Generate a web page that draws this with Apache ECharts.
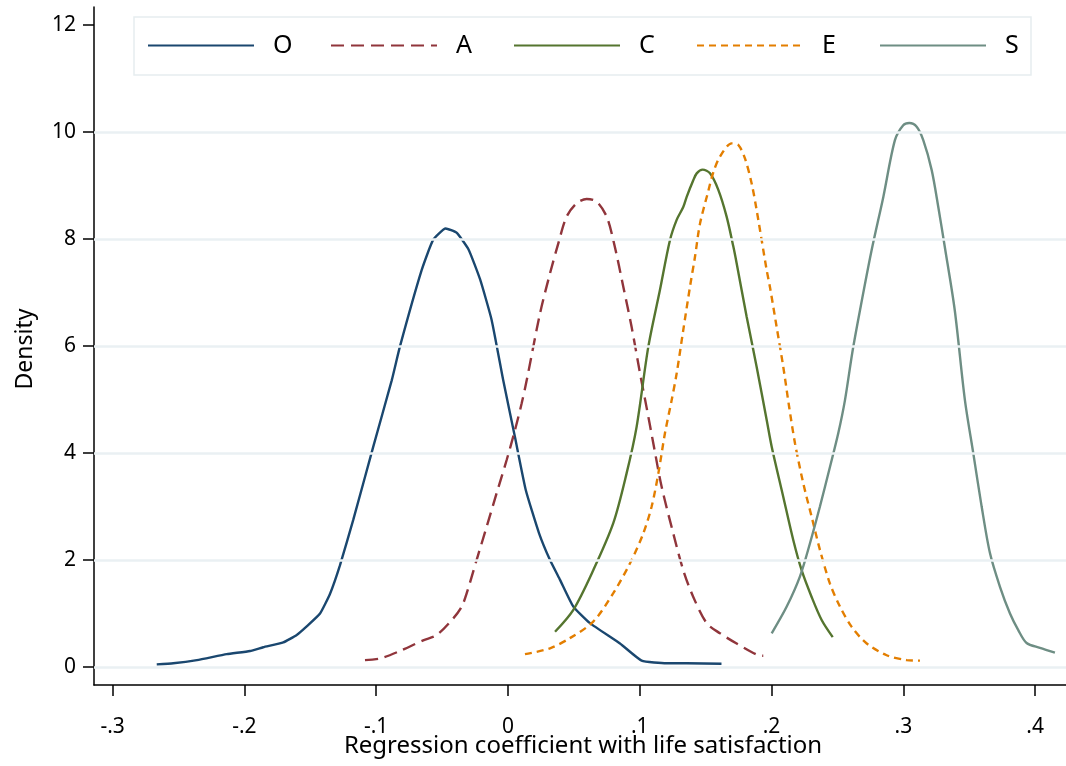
<!DOCTYPE html>
<html>
<head>
<meta charset="utf-8">
<script src="https://cdn.jsdelivr.net/npm/echarts@6/dist/echarts.min.js"></script>
<style>
html,body{margin:0;padding:0;background:#fff;}
#chart{width:1066px;height:766px;}
</style>
</head>
<body>
<div id="chart"></div>
<script>
// ---- data ----
const seriesNames = ['O', 'A', 'C', 'E', 'S'];
const xTicks = [-0.3, -0.2, -0.1, 0, 0.1, 0.2, 0.3, 0.4];
const yTicks = [0, 2, 4, 6, 8, 10, 12];
const gridValues = [0, 2, 4, 6, 8, 10];

const dataO = [
  [-0.2665,0.05],[-0.254,0.07],[-0.236,0.13],[-0.2134,0.24],[-0.1957,0.30],[-0.1857,0.37],
  [-0.1705,0.46],[-0.1603,0.60],[-0.1527,0.76],[-0.1426,1.0],[-0.135,1.37],[-0.1275,1.90],
  [-0.1174,2.75],[-0.1022,4.12],[-0.0882,5.36],[-0.082,5.99],[-0.0655,7.42],[-0.0567,7.99],
  [-0.0473,8.2],[-0.039,8.12],[-0.030,7.81],[-0.0212,7.25],[-0.0124,6.49],[-0.0036,5.36],
  [0.0053,4.30],[0.0135,3.31],[0.0236,2.50],[0.0319,2.0],[0.0395,1.63],[0.0496,1.13],
  [0.0622,0.82],[0.085,0.44],[0.1014,0.12],[0.1204,0.07],[0.1356,0.07],[0.162,0.06]
];
const dataA = [
  [-0.1085,0.13],[-0.097,0.16],[-0.082,0.30],[-0.0643,0.50],[-0.054,0.60],[-0.0415,0.91],
  [-0.0351,1.13],[-0.0313,1.38],[-0.0238,2.0],[-0.0162,2.62],[-0.0086,3.25],[-0.001,3.87],
  [0.0053,4.43],[0.0104,4.93],[0.0142,5.36],[0.0243,6.61],[0.0319,7.36],[0.0382,7.92],
  [0.0445,8.42],[0.0521,8.67],[0.0597,8.75],[0.0673,8.70],[0.0749,8.42],[0.0805,7.92],
  [0.0875,7.11],[0.0938,6.36],[0.1002,5.49],[0.1052,4.85],[0.1103,4.18],[0.1166,3.37],
  [0.1254,2.50],[0.133,1.81],[0.1406,1.31],[0.1508,0.82],[0.1609,0.63],[0.1735,0.44],
  [0.19,0.22],[0.1937,0.21]
];
const dataC = [
  [0.0357,0.66],[0.0496,1.07],[0.0647,1.81],[0.0799,2.69],[0.09,3.62],[0.0976,4.49],
  [0.1065,5.99],[0.1153,7.05],[0.1229,7.98],[0.128,8.36],[0.133,8.60],[0.1356,8.79],
  [0.1406,9.10],[0.1432,9.23],[0.1477,9.30],[0.1533,9.23],[0.1596,8.92],[0.1659,8.42],
  [0.171,7.86],[0.1735,7.55],[0.1811,6.55],[0.1887,5.61],[0.1963,4.62],[0.2001,4.12],
  [0.2089,3.18],[0.2165,2.37],[0.2228,1.81],[0.2304,1.31],[0.238,0.88],[0.2464,0.56]
];
const dataE = [
  [0.0129,0.24],[0.0319,0.35],[0.047,0.54],[0.0647,0.85],[0.0799,1.38],[0.0926,1.94],
  [0.1027,2.50],[0.109,3.0],[0.1141,3.62],[0.1191,4.37],[0.1242,4.99],[0.128,5.49],
  [0.133,6.30],[0.1381,7.11],[0.1419,7.67],[0.1457,8.29],[0.152,8.9],[0.1558,9.25],
  [0.1608,9.54],[0.1697,9.79],[0.1748,9.76],[0.1798,9.51],[0.1849,9.04],[0.1887,8.54],
  [0.1925,7.98],[0.1963,7.42],[0.1988,7.1],[0.2039,6.35],[0.2089,5.61],[0.2133,4.87],
  [0.2178,4.18],[0.2241,3.43],[0.2304,2.81],[0.2367,2.19],[0.2443,1.56],[0.2519,1.13],
  [0.2608,0.75],[0.2722,0.44],[0.2873,0.22],[0.3025,0.13],[0.3126,0.12]
];
const dataS = [
  [0.2001,0.63],[0.2115,1.13],[0.2215,1.69],[0.2291,2.31],[0.2367,3.0],[0.2443,3.74],
  [0.2506,4.37],[0.2557,4.99],[0.2614,5.9],[0.2671,6.67],[0.2759,7.79],[0.2848,8.79],
  [0.2936,9.85],[0.2999,10.13],[0.3045,10.17],[0.3101,10.10],[0.3151,9.85],[0.3215,9.29],
  [0.3265,8.60],[0.3316,7.83],[0.339,6.67],[0.3467,4.99],[0.3531,3.99],[0.3594,3.0],
  [0.3657,2.13],[0.3733,1.50],[0.3809,1.0],[0.3872,0.69],[0.3935,0.45],[0.4036,0.36],
  [0.415,0.27]
];
const seriesData = [dataO, dataA, dataC, dataE, dataS];
const colors = ['#1a476f', '#90353b', '#55752f', '#e37e00', '#6e8e84'];
const dashTypes = ['solid', [13, 7], 'solid', [7, 5], 'solid'];
const xTitle = 'Regression coefficient with life satisfaction';
const yTitle = 'Density';

function fmtX(v) {
  const r = Math.round(v * 10) / 10;
  if (r === 0) return '0';
  const s = r.toFixed(1);
  return s.replace('0.', '.');
}

const FONT = 'Noto Sans';
const chart = echarts.init(document.getElementById('chart'), null, {renderer: 'canvas'});

const lineSeries = seriesNames.map((n, i) => ({
  name: n,
  type: 'line',
  data: seriesData[i],
  showSymbol: false,
  symbol: 'none',
  smooth: i === 0 ? 0.15 : 0.3,
  z: 3,
  lineStyle: {color: colors[i], width: 2.4, type: dashTypes[i]},
  itemStyle: {color: colors[i]}
}));

const gridSeries = {
  name: '__grid',
  type: 'line',
  data: [],
  silent: true,
  z: 1,
  markLine: {
    silent: true,
    symbol: ['none', 'none'],
    label: {show: false},
    lineStyle: {color: '#eaf0f3', width: 2.5, type: 'solid'},
    emphasis: {disabled: true},
    animation: false,
    data: gridValues.map(v => ({yAxis: v}))
  }
};

chart.setOption({
  animation: false,
  backgroundColor: '#fff',
  grid: {left: 94, right: 0, top: 7, bottom: 81, containLabel: false},
  xAxis: {
    type: 'value',
    min: -0.3141,
    max: 0.4234,
    axisLine: {show: true, onZero: false, lineStyle: {color: '#000', width: 1.5}},
    axisTick: {show: true, length: 11, lineStyle: {color: '#000', width: 1.5}, customValues: xTicks},
    axisLabel: {show: true, margin: 32, color: '#000', fontSize: 21, fontFamily: FONT,
      customValues: xTicks, formatter: fmtX},
    splitLine: {show: false}
  },
  yAxis: {
    type: 'value',
    min: -0.336,
    max: 12.34,
    axisLine: {show: true, onZero: false, lineStyle: {color: '#000', width: 1.5}},
    axisTick: {show: true, length: 11, lineStyle: {color: '#000', width: 1.5}, customValues: yTicks},
    axisLabel: {show: true, margin: 18, color: '#000', fontSize: 21, fontFamily: FONT,
      customValues: yTicks, formatter: v => String(v)},
    splitLine: {show: false}
  },
  legend: {
    data: seriesNames,
    left: 134,
    top: 17,
    orient: 'horizontal',
    padding: [16, 0, 17, 13],
    itemGap: 31,
    itemWidth: 106,
    itemHeight: 20,
    borderColor: '#e6edf0',
    borderWidth: 1.5,
    backgroundColor: '#fff',
    itemStyle: {opacity: 0},
    textStyle: {color: '#000', fontSize: 25, fontFamily: FONT, width: 26, lineHeight: 20,
      padding: [0, 0, 0, 14]},
    selectedMode: false
  },
  graphic: [
    {type: 'text', x: 583, y: 746,
      style: {text: xTitle, fill: '#000', font: '24px "Noto Sans"', textAlign: 'center', textVerticalAlign: 'middle'}},
    {type: 'text', x: 25, y: 349, rotation: Math.PI / 2,
      style: {text: yTitle, fill: '#000', font: '23px "Noto Sans"', textAlign: 'center', textVerticalAlign: 'middle'}}
  ],
  series: [gridSeries].concat(lineSeries)
});
</script>
</body>
</html>
